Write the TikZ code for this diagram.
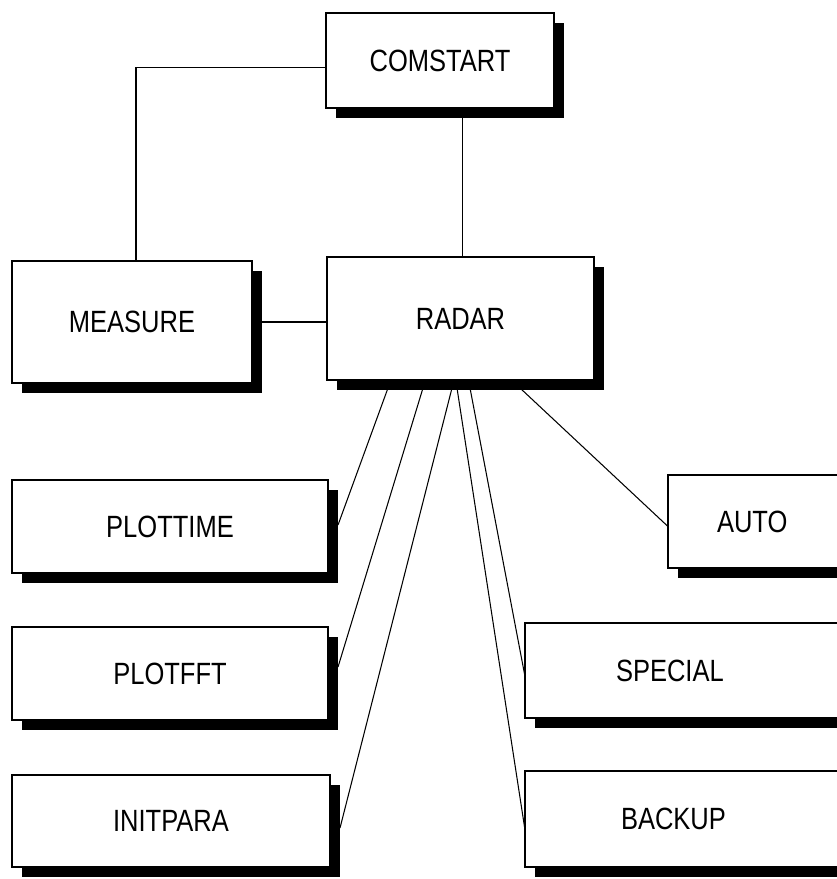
\documentclass[tikz,border=0pt]{standalone}
\usepackage{fontspec}
\setsansfont{Liberation Sans}[FakeStretch=0.83]
\usetikzlibrary{calc,shadows}

\tikzset{
  modbox/.style 2 args={draw, line width=1.1pt, fill=white, inner sep=0pt, outer sep=0pt,
    minimum width=#1*0.02cm, minimum height=#2*0.02cm,
    font=\sffamily\fontsize{17.5}{20}\selectfont,
    drop shadow={shadow xshift=0.2cm, shadow yshift=-0.2cm, opacity=1, fill=black}},
  % boxes cut by the page edge: text starts at a fixed indent
  cutbox/.style={align=left, text width=#1*0.02cm},
  link/.style={line width=0.6pt}
}

\begin{document}
\begin{tikzpicture}[x=0.02cm, y=-0.02cm]
  \useasboundingbox (0,0) rectangle (837,879);

  % top and middle row
  \node[modbox={228}{95}] (comstart) at (440,60.5) {COMSTART};
  \node[modbox={240}{122}] (measure) at (132,322) {MEASURE};
  \node[modbox={267}{123}] (radar) at (460.5,318.5) {RADAR};

  % left column
  \node[modbox={316}{93}] (plottime) at (170,526.5) {PLOTTIME};
  \node[modbox={316}{93}] (plotfft) at (170,673.5) {PLOTFFT};
  \node[modbox={318}{92}] (initpara) at (171,821) {INITPARA};

  % right column (cut at page edge)
  \node[modbox={202}{93}, cutbox={104}] (auto) at (769,521.5) {AUTO};
  \node[modbox={350}{95}, cutbox={168}] (special) at (700,670.5) {SPECIAL};
  \node[modbox={350}{96}, cutbox={158}] (backup) at (700,819) {BACKUP};

  % connections
  \draw[link] ($(comstart.west)+(0,7)$) -| ($(measure.north)+(4,0)$);
  \draw[link] ($(radar.north)+(2,0)$) -- ($(radar.north |- comstart.south)+(2,0)$);
  \draw[link] (measure.east) -- (measure.east -| radar.west);

  \draw[link] ($(radar.south west)+(61,8)$) -- ($(plottime.east)+(10,-1.5)$);
  \draw[link] ($(radar.south west)+(96,8)$) -- ($(plotfft.east)+(10,-6.5)$);
  \draw[link] ($(radar.south west)+(125,8)$) -- ($(initpara.east)+(10,7)$);
  \draw[link] ($(radar.south west)+(130,8)$) -- ($(backup.west)+(0,11)$);
  \draw[link] ($(radar.south west)+(143,8)$) -- ($(special.west)+(0,6)$);
  \draw[link] ($(radar.south west)+(193,8)$) -- ($(auto.west)+(0,5)$);
\end{tikzpicture}
\end{document}
